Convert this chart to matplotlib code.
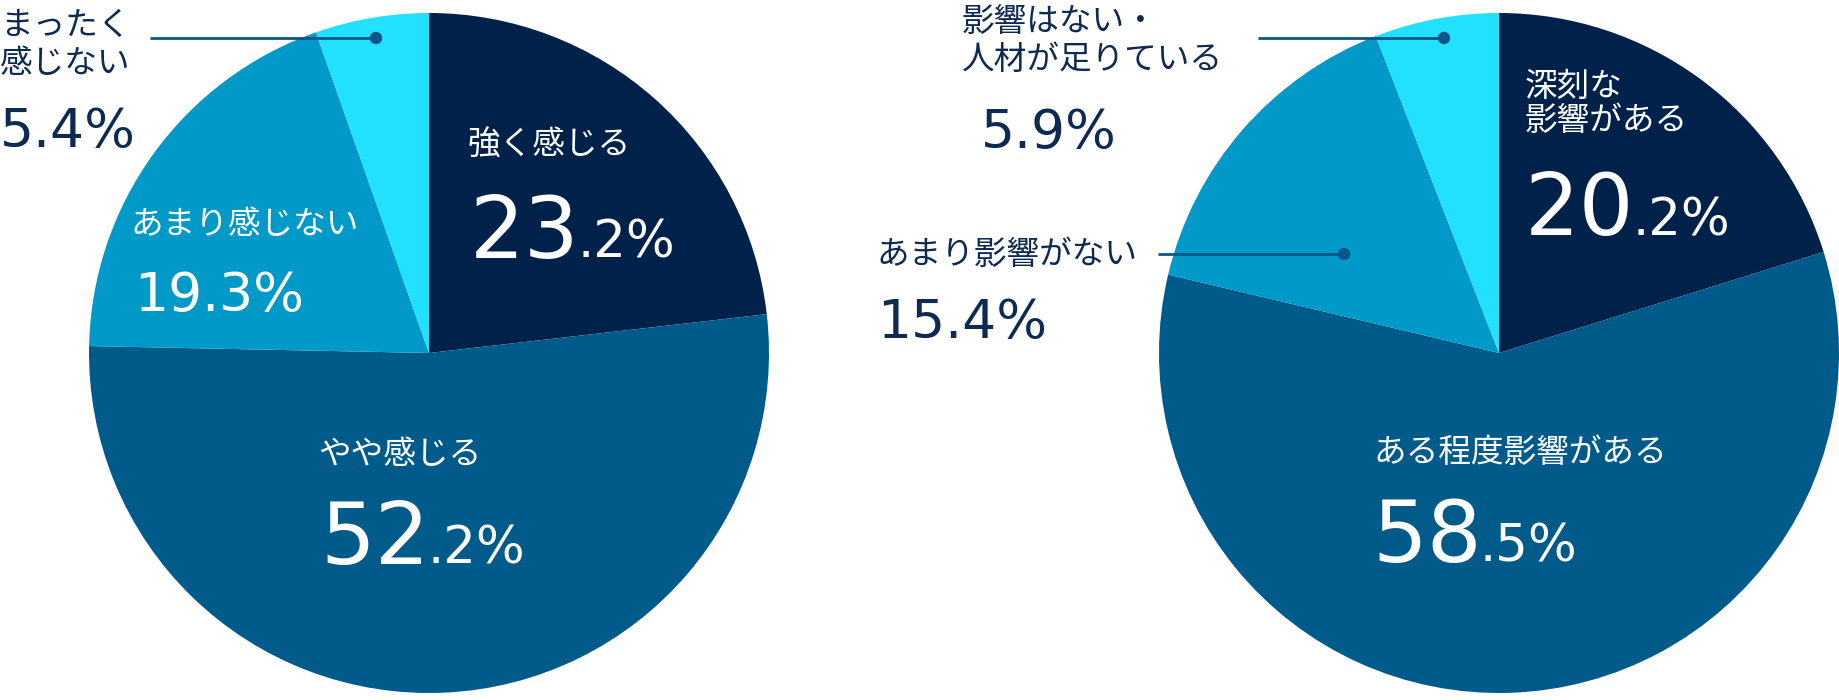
import matplotlib
matplotlib.use("Agg")
import matplotlib.pyplot as plt
from matplotlib.patches import Circle

plt.rcParams['font.family'] = ['Noto Sans CJK JP', 'DejaVu Sans']

# left pie: 人材不足を感じるか
left_labels = ['強く感じる', 'やや感じる', 'あまり感じない', 'まったく\n感じない']
left_values = [23.2, 52.2, 19.3, 5.4]
# right pie: 事業への影響
right_labels = ['深刻な\n影響がある', 'ある程度影響がある', 'あまり影響がない', '影響はない・\n人材が足りている']
right_values = [20.2, 58.5, 15.4, 5.9]

colors = ['#00214A', '#005B8B', '#0099C8', '#22E1FF']
navy_text = '#0E2A52'
line_col = '#0A5688'
num_font = 'DejaVu Sans'

W, H = 1840, 700
fig = plt.figure(figsize=(W / 100, H / 100), dpi=100)
ax = fig.add_axes([0, 0, 1, 1])


def Y(y):
    # image coords (top=0) -> axes coords
    return H - y


ax.pie(left_values, colors=colors, startangle=90, counterclock=False,
       center=(429, Y(353)), radius=340, wedgeprops=dict(linewidth=0))
ax.pie(right_values, colors=colors, startangle=90, counterclock=False,
       center=(1499, Y(353)), radius=340, wedgeprops=dict(linewidth=0))
ax.set_xlim(0, W)
ax.set_ylim(0, H)
ax.set_aspect('auto')
ax.axis('off')

fig.canvas.draw()
renderer = fig.canvas.get_renderer()


def label(x, y, s, color, size=23.5, ls=1.2):
    ax.text(x, Y(y), s, color=color, fontsize=size, ha='left', va='center',
            linespacing=ls)


def number(x, y, val, color, big=None, small=37):
    s = '%.1f' % val
    if big is None:
        ax.text(x, Y(y), s + '%', color=color, fontsize=38.5, ha='left',
                va='baseline', family=num_font)
        return
    head, tail = s.split('.')
    t = ax.text(x, Y(y), head, color=color, fontsize=big, ha='left',
                va='baseline', family=num_font)
    bb = t.get_window_extent(renderer=renderer)
    x1 = ax.transData.inverted().transform((bb.x1, bb.y0))[0]
    ax.text(x1 - 2, Y(y), '.' + tail + '%', color=color, fontsize=small,
            ha='left', va='baseline', family=num_font)


def leader(x0, x1, y):
    ax.plot([x0, x1], [Y(y), Y(y)], color=line_col, lw=2, solid_capstyle='butt')
    ax.add_patch(Circle((x1, Y(y)), 5.5, color=line_col, zorder=5))


# left chart texts
label(468, 146, left_labels[0], 'white')
number(470, 258, left_values[0], 'white', big=62)
label(318, 455, left_labels[1], 'white')
number(320, 564, left_values[1], 'white', big=62)
label(130, 225, left_labels[2], 'white')
number(134, 311, left_values[2], 'white')
label(0, 45, left_labels[3], navy_text, ls=1.27)
number(0, 147, left_values[3], navy_text)
leader(150, 376, 38)

# right chart texts
label(1525, 104, right_labels[0], 'white', ls=1.1)
number(1525, 235, right_values[0], 'white', big=62)
label(1373, 453, right_labels[1], 'white')
number(1372, 562, right_values[1], 'white', big=62)
label(876, 255, right_labels[2], navy_text)
number(877, 338, right_values[2], navy_text)
label(962, 41, right_labels[3], navy_text, ls=1.27)
number(981, 148, right_values[3], navy_text)
leader(1258, 1444, 38)
leader(1158, 1344, 254)

fig.savefig('out.png', dpi=100, facecolor='white')
